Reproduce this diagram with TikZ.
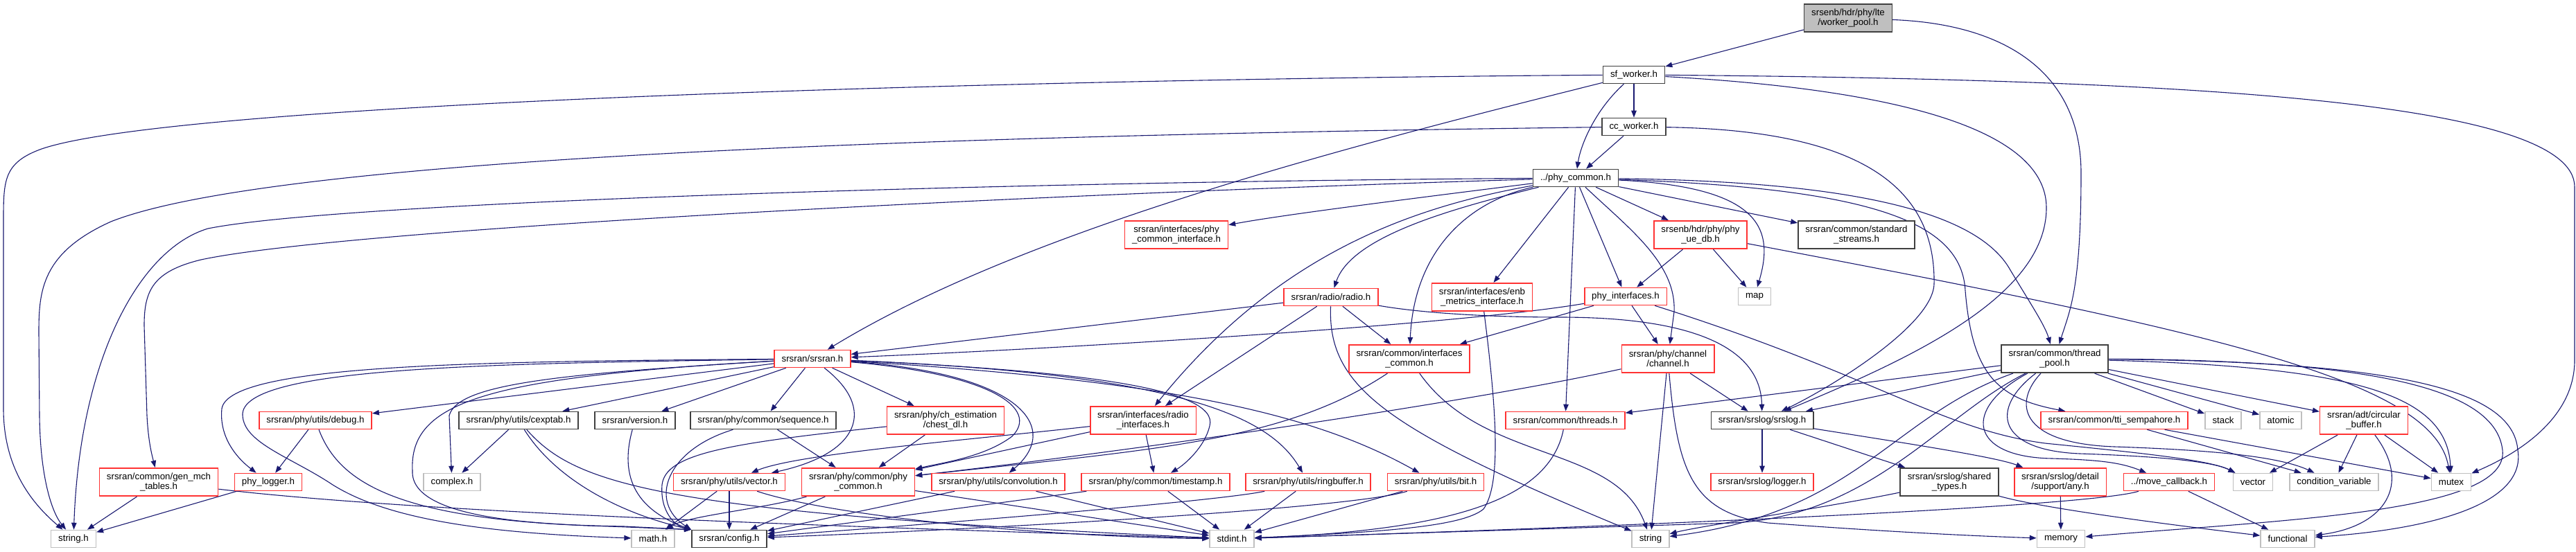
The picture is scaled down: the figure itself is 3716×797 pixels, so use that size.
\documentclass[tikz,border=0pt]{standalone}
\usepackage{fontspec}
\setmainfont{Liberation Sans}
\usetikzlibrary{arrows.meta,backgrounds}

\definecolor{incblue}{HTML}{191970}
\definecolor{truncred}{HTML}{FF3333}
\definecolor{sysgray}{HTML}{BFBFBF}
\definecolor{docgray}{HTML}{404040}

\begin{document}
\begin{tikzpicture}[x=1pt,y=-1pt,
		hdr/.style={draw=docgray,line width=1.6pt,fill=white,font=\fontsize{13.3}{14}\selectfont,align=center,inner xsep=10.5pt,inner ysep=0pt,minimum height=25pt},
		tall/.style={minimum height=40.5pt},
		trunc/.style={hdr,draw=truncred},
		sys/.style={hdr,draw=sysgray},
		root/.style={hdr,fill=sysgray},
		inc/.style={draw=incblue,line width=1.1pt,-{Triangle[length=10pt,width=7.5pt]}}]
				\useasboundingbox (0,0) rectangle (3716,797);

				% File in alto
				\node[root,tall] (wpool) at (2666,26) {srsenb/hdr/phy/lte\\/worker\_pool.h};
				\node[hdr] (sfw) at (2357,108) {sf\_worker.h};
				\node[hdr] (ccw) at (2357,183) {cc\_worker.h};
				\node[hdr] (phyc) at (2273,257) {../phy\_common.h};
				\node[trunc,tall] (phyif) at (1697,339) {srsran/interfaces/phy\\\_common\_interface.h};
				\node[trunc,tall] (uedb) at (2453,339) {srsenb/hdr/phy/phy\\\_ue\_db.h};
				\node[hdr,tall] (stdstr) at (2678,339) {srsran/common/standard\\\_streams.h};
				\node[trunc] (radio) at (1920,429) {srsran/radio/radio.h};
				\node[trunc,tall] (metrics) at (2138,429) {srsran/interfaces/enb\\\_metrics\_interface.h};
				\node[trunc] (phyint) at (2345,428) {phy\_interfaces.h};
				\node[sys] (map) at (2531,428) {map};

				% Livello centrale
				\node[trunc] (srsranh) at (1172,518) {srsran/srsran.h};
				\node[trunc,tall] (ifcommon) at (2033,518) {srsran/common/interfaces\\\_common.h};
				\node[trunc,tall] (channel) at (2406,518) {srsran/phy/channel\\/channel.h};
				\node[hdr,tall] (tpool) at (2964,518) {srsran/common/thread\\\_pool.h};
				\node[trunc] (debug) at (455,607) {srsran/phy/utils/debug.h};
				\node[hdr] (cexptab) at (748,607) {srsran/phy/utils/cexptab.h};
				\node[hdr] (version) at (916,607) {srsran/version.h};
				\node[hdr] (sequence) at (1101,607) {srsran/phy/common/sequence.h};
				\node[trunc,tall] (chest) at (1364,607) {srsran/phy/ch\_estimation\\/chest\_dl.h};
				\node[trunc,tall] (radioif) at (1649,607) {srsran/interfaces/radio\\\_interfaces.h};
				\node[trunc] (threads) at (2258,607) {srsran/common/threads.h};
				\node[hdr] (srslog) at (2542,607) {srsran/srslog/srslog.h};
				\node[trunc] (tti) at (3050,607) {srsran/common/tti\_sempahore.h};
				\node[sys] (stack) at (3207,607) {stack};
				\node[sys] (atomic) at (3290,607) {atomic};
				\node[trunc,tall] (cbuf) at (3410,607) {srsran/adt/circular\\\_buffer.h};

				% Penultima riga
				\node[trunc,tall] (gentab) at (229,696) {srsran/common/gen\_mch\\\_tables.h};
				\node[trunc] (phylog) at (387,696) {phy\_logger.h};
				\node[sys] (complex) at (652,696) {complex.h};
				\node[trunc] (vecu) at (1052,696) {srsran/phy/utils/vector.h};
				\node[trunc,tall] (phycom) at (1238,696) {srsran/phy/common/phy\\\_common.h};
				\node[trunc] (conv) at (1440,696) {srsran/phy/utils/convolution.h};
				\node[trunc] (tstamp) at (1667,696) {srsran/phy/common/timestamp.h};
				\node[trunc] (ringbuf) at (1887,696) {srsran/phy/utils/ringbuffer.h};
				\node[trunc] (bit) at (2071,696) {srsran/phy/utils/bit.h};
				\node[trunc] (logger) at (2542,696) {srsran/srslog/logger.h};
				\node[hdr,tall] (shtypes) at (2812,696) {srsran/srslog/shared\\\_types.h};
				\node[trunc,tall] (any) at (2972,696) {srsran/srslog/detail\\/support/any.h};
				\node[trunc] (movecb) at (3129,696) {../move\_callback.h};
				\node[sys] (vector) at (3250,696) {vector};
				\node[sys] (condvar) at (3367,696) {condition\_variable};
				\node[sys] (mutex) at (3536,696) {mutex};

				% Header di sistema in basso
				\node[sys] (stringh) at (106,778) {string.h};
				\node[sys] (math) at (942,778) {math.h};
				\node[hdr] (config) at (1052,778) {srsran/config.h};
				\node[sys] (stdint) at (1777,778) {stdint.h};
				\node[sys] (string) at (2381,778) {string};
				\node[sys] (memory) at (2973,778) {memory};
				\node[sys] (functional) at (3300,778) {functional};

				\begin{scope}[on background layer]
				% worker_pool.h e sf_worker.h
				\draw[inc] (wpool) -- (sfw);
				\draw[inc] (wpool) .. controls (2900,35) and (3002,110) .. (3002,250) .. controls (3002,420) and (2985,450) .. (tpool);
				\draw[inc] (sfw) -- (ccw);
				\draw[inc] (sfw) .. controls (2300,160) and (2280,210) .. (phyc);
				\draw[inc] (sfw) .. controls (1950,210) and (1480,330) .. (srsranh);
				\draw[inc] (sfw) .. controls (1400,115) and (250,150) .. (60,215) .. controls (5,235) and (5,260) .. (5,320) -- (5,590) .. controls (5,680) and (50,730) .. (stringh);
				\draw[inc] (sfw) .. controls (2750,130) and (2952,190) .. (2952,300) .. controls (2952,430) and (2750,520) .. (srslog);
				\draw[inc] (sfw) .. controls (3200,115) and (3714,150) .. (3714,270) -- (3714,520) .. controls (3714,610) and (3620,660) .. (mutex);

				% cc_worker.h
				\draw[inc] (ccw) -- (phyc);
				\draw[inc] (ccw) .. controls (1400,195) and (400,225) .. (160,320) .. controls (60,365) and (56,420) .. (56,480) -- (57,600) .. controls (58,690) and (75,740) .. (stringh);
				\draw[inc] (ccw) .. controls (2700,188) and (2792,280) .. (2790,410) .. controls (2788,470) and (2640,560) .. (srslog);

				% ../phy_common.h
				\draw[inc] (phyc) .. controls (1500,262) and (500,290) .. (300,330) .. controls (200,360) and (115,520) .. (stringh);
				\draw[inc] (phyc) .. controls (1500,280) and (500,330) .. (290,375) .. controls (220,392) and (208,420) .. (208,470) -- (212,600) .. controls (214,640) and (220,660) .. (gentab);
				\draw[inc] (phyc) .. controls (2050,285) and (1850,310) .. (phyif);
				\draw[inc] (phyc) .. controls (2030,300) and (1840,370) .. (radioif);
				\draw[inc] (phyc) .. controls (2100,300) and (1950,340) .. (radio);
				\draw[inc] (phyc) .. controls (2120,290) and (2040,360) .. (ifcommon);
				\draw[inc] (phyc) -- (metrics);
				\draw[inc] (phyc) -- (threads);
				\draw[inc] (phyc) -- (phyint);
				\draw[inc] (phyc) .. controls (2350,330) and (2418,380) .. (2415,450) -- (channel);
				\draw[inc] (phyc) -- (uedb);
				\draw[inc] (phyc) .. controls (2540,270) and (2560,330) .. (map);
				\draw[inc] (phyc) -- (stdstr);
				\draw[inc] (phyc) .. controls (2650,262) and (2850,300) .. (2900,390) .. controls (2930,440) and (2950,470) .. (tpool);
				\draw[inc] (phyc) .. controls (2700,272) and (2830,320) .. (2835,420) .. controls (2845,540) and (2880,575) .. (tti);

				% phy_ue_db.h, radio.h, enb_metrics_interface.h, threads.h
				\draw[inc] (uedb) -- (phyint);
				\draw[inc] (uedb) -- (map);
				\draw[inc] (uedb) .. controls (3200,480) and (3510,550) .. (mutex);
				\draw[inc] (radio) -- (srsranh);
				\draw[inc] (radio) -- (ifcommon);
				\draw[inc] (radio) -- (radioif);
				\draw[inc] (radio) .. controls (1915,560) and (2000,620) .. (string);
				\draw[inc] (radio) .. controls (2050,452) and (2150,458) .. (2250,458) .. controls (2480,458) and (2540,520) .. (srslog);
				\draw[inc] (metrics) .. controls (2160,600) and (2165,700) .. (2140,735) .. controls (2110,760) and (2000,768) .. (stdint);
				\draw[inc] (threads) .. controls (2235,720) and (2100,765) .. (stdint);

				% phy_interfaces.h, interfaces_common.h, channel.h
				\draw[inc] (phyint) .. controls (2100,470) and (1500,505) .. (srsranh);
				\draw[inc] (phyint) -- (ifcommon);
				\draw[inc] (phyint) -- (channel);
				\draw[inc] (phyint) .. controls (2700,540) and (2800,620) .. (2950,640) .. controls (3100,655) and (3190,665) .. (vector);
				\draw[inc] (ifcommon) .. controls (1850,640) and (1650,650) .. (phycom);
				\draw[inc] (ifcommon) .. controls (2140,670) and (2330,640) .. (string);
				\draw[inc] (channel) -- (string);
				\draw[inc] (channel) .. controls (2420,680) and (2440,740) .. (2550,755) .. controls (2750,770) and (2880,775) .. (memory);
				\draw[inc] (channel) -- (srslog);
				\draw[inc] (channel) .. controls (2100,585) and (1600,655) .. (phycom);

				% srslog
				\draw[inc] (srslog) -- (logger);
				\draw[inc] (srslog) -- (shtypes);
				\draw[inc] (srslog) .. controls (2750,640) and (2880,660) .. (any);
				\draw[inc] (shtypes) .. controls (2650,730) and (2450,760) .. (string);
				\draw[inc] (shtypes) .. controls (2950,735) and (3150,760) .. (functional);
				\draw[inc] (any) -- (memory);
				\draw[inc] (movecb) -- (functional);
				\draw[inc] (movecb) .. controls (3000,735) and (2200,765) .. (stdint);

				% thread_pool.h
				\draw[inc] (tpool) -- (stack);
				\draw[inc] (tpool) -- (atomic);
				\draw[inc] (tpool) -- (cbuf);
				\draw[inc] (tpool) .. controls (3400,530) and (3530,570) .. (mutex);
				\draw[inc] (tpool) .. controls (3450,522) and (3625,560) .. (3632,650) .. controls (3645,730) and (3500,765) .. (functional);
				\draw[inc] (tpool) .. controls (3420,520) and (3600,560) .. (3610,650) .. controls (3620,740) and (3300,750) .. (memory);
				\draw[inc] (tpool) .. controls (2830,590) and (2840,660) .. (2960,662) .. controls (3030,664) and (3060,668) .. (movecb);
				\draw[inc] (tpool) .. controls (2870,590) and (2880,650) .. (3000,655) .. controls (3150,660) and (3200,670) .. (vector);
				\draw[inc] (tpool) .. controls (2905,580) and (2910,640) .. (3050,645) .. controls (3200,650) and (3290,660) .. (condvar);
				\draw[inc] (tpool) -- (srslog);
				\draw[inc] (tpool) -- (threads);
				\draw[inc] (tpool) .. controls (2730,600) and (2680,740) .. (string);
				\draw[inc] (tpool) .. controls (2800,600) and (2700,745) .. (2500,755) -- (stdint);
				\draw[inc] (cbuf) -- (vector);
				\draw[inc] (cbuf) -- (condvar);
				\draw[inc] (cbuf) -- (mutex);
				\draw[inc] (cbuf) .. controls (3480,700) and (3440,760) .. (functional);
				\draw[inc] (tti) -- (condvar);
				\draw[inc] (tti) -- (mutex);

				% srsran.h
				\draw[inc] (srsranh) .. controls (700,522) and (330,525) .. (320,590) .. controls (316,630) and (340,660) .. (phylog);
				\draw[inc] (srsranh) .. controls (700,525) and (345,530) .. (350,600) .. controls (352,640) and (420,660) .. (480,700) .. controls (560,750) and (700,770) .. (math);
				\draw[inc] (srsranh) .. controls (700,545) and (590,580) .. (595,680) .. controls (592,750) and (780,758) .. (900,760) -- (config.north west);
				\draw[inc] (srsranh) .. controls (800,540) and (660,555) .. (648,600) -- (complex);
				\draw[inc] (srsranh) -- (debug);
				\draw[inc] (srsranh) -- (cexptab);
				\draw[inc] (srsranh) -- (version);
				\draw[inc] (srsranh) -- (sequence);
				\draw[inc] (srsranh) .. controls (1265,590) and (1240,655) .. (vecu);
				\draw[inc] (srsranh) -- (chest);
				\draw[inc] (srsranh) .. controls (1430,540) and (1500,590) .. (1460,630) .. controls (1420,660) and (1360,668) .. (phycom);
				\draw[inc] (srsranh) .. controls (1480,540) and (1530,620) .. (conv);
				\draw[inc] (srsranh) .. controls (1550,535) and (1760,560) .. (1745,615) .. controls (1738,645) and (1710,670) .. (tstamp);
				\draw[inc] (srsranh) .. controls (1700,540) and (1830,600) .. (ringbuf);
				\draw[inc] (srsranh) .. controls (1700,550) and (1900,600) .. (bit);

				% debug.h, cexptab.h, version.h, sequence.h, chest_dl.h
				\draw[inc] (debug) -- (phylog);
				\draw[inc] (debug) .. controls (490,700) and (580,752) .. (880,760) -- (config.north west);
				\draw[inc] (cexptab) -- (complex);
				\draw[inc] (cexptab) .. controls (800,690) and (890,740) .. (config.north west);
				\draw[inc] (cexptab) .. controls (830,700) and (950,740) .. (stdint);
				\draw[inc] (version) .. controls (890,700) and (930,740) .. (config.north west);
				\draw[inc] (sequence) -- (phycom);
				\draw[inc] (sequence) .. controls (960,650) and (935,725) .. (config.north west);
				\draw[inc] (chest) -- (phycom);
				\draw[inc] (chest) .. controls (1050,640) and (960,655) .. (955,700) .. controls (952,740) and (975,760) .. (config.north west);
				\draw[inc] (radioif) .. controls (1400,635) and (1150,655) .. (vecu);
				\draw[inc] (radioif) -- (phycom);
				\draw[inc] (radioif) -- (tstamp);

				% ultima riga: math.h, config.h, stdint.h
				\draw[inc] (vecu) -- (math);
				\draw[inc] (vecu) -- (config);
				\draw[inc] (vecu) .. controls (1200,745) and (1500,775) .. (stdint);
				\draw[inc] (phycom) -- (config);
				\draw[inc] (phycom) .. controls (1100,735) and (990,745) .. (math);
				\draw[inc] (phycom) -- (stdint);
				\draw[inc] (conv) -- (config);
				\draw[inc] (conv) -- (stdint);
				\draw[inc] (tstamp) -- (config);
				\draw[inc] (tstamp) -- (stdint);
				\draw[inc] (ringbuf) .. controls (1750,725) and (1300,760) .. (config);
				\draw[inc] (ringbuf) -- (stdint);
				\draw[inc] (bit) .. controls (1950,735) and (1400,765) .. (config);
				\draw[inc] (bit) -- (stdint);
				\draw[inc] (gentab) -- (stringh);
				\draw[inc] (gentab) .. controls (600,740) and (1200,760) .. (stdint);
				\draw[inc] (phylog) -- (stringh);
				\end{scope}
			\end{tikzpicture}
\end{document}
